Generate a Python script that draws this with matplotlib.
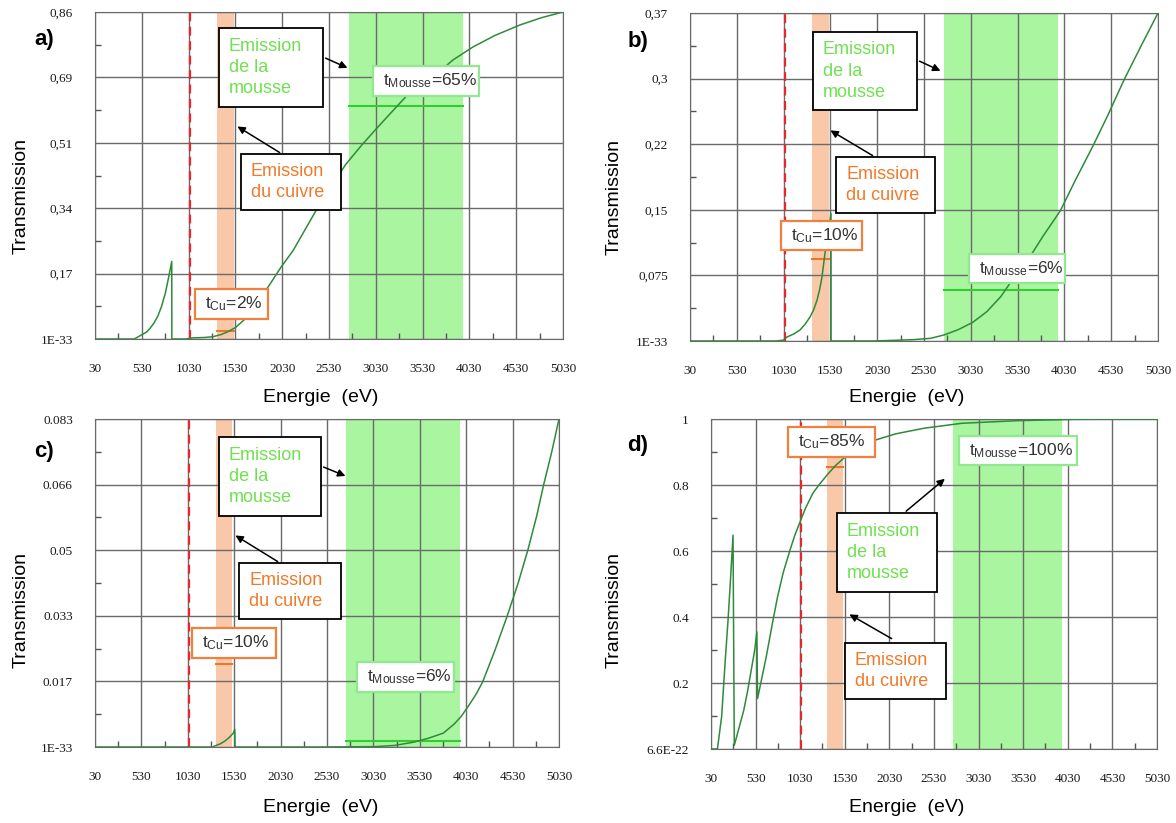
import numpy as np
import matplotlib
matplotlib.use("Agg")
import matplotlib.pyplot as plt
from matplotlib.patches import Rectangle, FancyArrowPatch

plt.rcParams['font.family'] = ['Liberation Sans', 'DejaVu Sans']

# transmission curves (energy in eV)
energy_a = [30, 450, 528, 580, 621, 660, 701, 740, 782, 815, 850, 851, 1000, 1077, 1200, 1291,
            1380, 1440, 1530, 1626, 1720, 1820, 1920, 2020, 2145, 2280, 2401, 2550, 2711, 2880,
            3032, 3200, 3354, 3500, 3635, 3756, 3855, 4068, 4300, 4571, 4800, 5030]
trans_a = [0, 0, 0.011, 0.018, 0.029, 0.042, 0.06, 0.085, 0.121, 0.16, 0.204, 0, 0, 0.003, 0.004, 0.006,
           0.012, 0.018, 0.030, 0.051, 0.08, 0.115, 0.152, 0.19, 0.232, 0.29, 0.342, 0.40, 0.46, 0.51,
           0.552, 0.597, 0.638, 0.668, 0.69, 0.713, 0.734, 0.768, 0.798, 0.826, 0.845, 0.86]

energy_b = [30, 950, 1030, 1066, 1140, 1205, 1260, 1312, 1350, 1387, 1415, 1440, 1472, 1494, 1515,
            1536, 1537, 2000, 2414, 2600, 2750, 2900, 3050, 3200, 3350, 3500, 3650, 3800, 3987,
            4150, 4340, 4500, 4669, 4850, 5030]
trans_b = [0, 0, 0.001, 0.0045, 0.008, 0.0124, 0.019, 0.027, 0.035, 0.046, 0.058, 0.072, 0.099, 0.114, 0.128,
           0.144, 0, 0, 0.0015, 0.003, 0.007, 0.013, 0.021, 0.033, 0.05, 0.073, 0.093, 0.118, 0.147,
           0.182, 0.221, 0.256, 0.295, 0.333, 0.37]

energy_c = [30, 1300, 1313, 1380, 1430, 1480, 1520, 1536, 1540, 2500, 3054, 3257, 3460, 3620, 3783,
            3900, 3978, 4066, 4140, 4208, 4340, 4471, 4590, 4694, 4790, 4868, 4950, 5030]
trans_c = [0, 0, 0.0002, 0.0008, 0.0015, 0.0025, 0.0035, 0.0045, 0, 0, 0.0001, 0.0004, 0.0012, 0.0022, 0.0035,
           0.0058, 0.0078, 0.0108, 0.0135, 0.0165, 0.0245, 0.0331, 0.0415, 0.0498, 0.0585, 0.0667, 0.0745, 0.083]

energy_d = [30, 102, 150, 190, 221, 250, 277, 291, 340, 397, 440, 481, 520, 544, 552, 600, 649, 725,
            776, 840, 916, 970, 1050, 1090, 1174, 1240, 1330, 1430, 1534, 1700, 1871, 2100, 2418,
            2840, 3472, 4104, 5030]
trans_d = [0, 0, 0.1, 0.27, 0.39, 0.52, 0.648, 0.011, 0.06, 0.117, 0.175, 0.239, 0.3, 0.355, 0.153, 0.215, 0.279, 0.39,
           0.461, 0.535, 0.603, 0.648, 0.703, 0.73, 0.776, 0.80, 0.83, 0.86, 0.885, 0.915, 0.936, 0.955, 0.972,
           0.987, 0.995, 0.999, 1.0]

energies = [energy_a, energy_b, energy_c, energy_d]
transmissions = [trans_a, trans_b, trans_c, trans_d]

panel_names = ['a)', 'b)', 'c)', 'd)']
y_max = [0.86, 0.37, 0.083, 1.0]
ytick_labels = [['1E-33', '0,17', '0,34', '0,51', '0,69', '0,86'],
                ['1E-33', '0,075', '0,15', '0,22', '0,3', '0,37'],
                ['1E-33', '0.017', '0.033', '0.05', '0.066', '0.083'],
                ['6.6E-22', '0.2', '0.4', '0.6', '0.8', '1']]
xtick_values = [30, 530, 1030, 1530, 2030, 2530, 3030, 3530, 4030, 4530, 5030]

red_line_e = 1040
cu_band = (1330, 1510)
foam_band = (2740, 3960)
t_cu_level = [0.02, 0.093, 0.0211, 0.855]
t_foam_level = [0.612, 0.057, 0.0014, None]
t_cu_text = ['2%', '10%', '10%', '85%']
t_foam_text = ['65%', '6%', '6%', '100%']

# ---- layout, in pixels of the 1176x823 picture ----
W, H = 1176, 823
axes_px = [(95, 12, 563, 339), (690, 13, 1158, 341), (95, 419, 559, 747), (711, 419, 1157, 749)]
letter_px = [(44, 40), (638, 41), (44, 451), (638, 445)]
ylabel_px = [(21, 196), (614, 197), (21, 610), (614, 610)]
xlabel_px = [(321, 397), (907, 397), (321, 807), (907, 807)]
foam_box_px = [(219, 28, 323, 107), (813, 32, 917, 110), (219, 437, 321, 516), (837, 513, 937, 592)]
cu_box_px = [(241, 154, 341, 210), (836, 157, 935, 213), (239, 563, 341, 619), (845, 643, 946, 699)]
tcu_box_px = [(195, 289, 268, 319), (781, 221, 862, 250), (192, 628, 276, 658), (788, 427, 875, 457)]
tfoam_box_px = [(373, 66, 479, 96), (969, 254, 1065, 283), (357, 662, 454, 692), (959, 436, 1077, 465)]
foam_arrow_px = [((323, 57), (350, 69)), ((917, 60), (943, 72)), ((321, 466), (348, 477)), ((904, 513), (947, 477))]
cu_arrow_px = [((282, 154), (235, 125)), ((875, 157), (828, 129)), ((280, 563), (233, 534)), ((894, 640), (847, 613))]

foam_green = '#6FE050'
cu_orange = '#F07A2A'


def fx(px):
    return px / W


def fy(py):
    return 1 - py / H


fig = plt.figure(figsize=(W / 100, H / 100), dpi=100)


def text_box(box, text, color, edge, size, lw=1.3):
    x0, y0, x1, y1 = box
    fig.add_artist(Rectangle((fx(x0), fy(y1)), (x1 - x0) / W, (y1 - y0) / H,
                             transform=fig.transFigure, fc='white', ec=edge, lw=lw, zorder=5))
    fig.text(fx(x0 + 10), fy((y0 + y1) / 2), text, color=color, fontsize=size,
             ha='left', va='center', linespacing=1.32, zorder=6)


def arrow(p, q):
    fig.add_artist(FancyArrowPatch((fx(p[0]), fy(p[1])), (fx(q[0]), fy(q[1])),
                                   transform=fig.transFigure, arrowstyle='-|>',
                                   mutation_scale=11, lw=1.1, color='black', zorder=7))


for i in range(4):
    l, t, r, b = axes_px[i]
    ax = fig.add_axes([fx(l), fy(b), (r - l) / W, (b - t) / H])
    top = y_max[i]

    ax.axvspan(cu_band[0], cu_band[1], color='#F8C8A8', lw=0, zorder=0.5)
    ax.axvspan(foam_band[0], foam_band[1], color='#A9F5A0', lw=0, zorder=0.5)
    ax.axvline(red_line_e, color='#E8262B', lw=1.6, ls=(0, (4, 2.5)), zorder=3)
    ax.plot(energies[i], transmissions[i], color='#2E8B3A', lw=1.1, zorder=4)
    ax.plot(cu_band, [t_cu_level[i]] * 2, color='#E87830', lw=1.5, zorder=3)
    if t_foam_level[i] is not None:
        ax.plot(foam_band, [t_foam_level[i]] * 2, color='#33CC33', lw=1.5, zorder=3)

    ax.set_xlim(30, 5030)
    ax.set_ylim(0, top)
    ax.set_xticks(xtick_values)
    ax.set_xticklabels([str(v) for v in xtick_values])
    ax.set_xticks(np.arange(280, 5030, 500), minor=True)
    ax.set_yticks(np.linspace(0, top, 6))
    ax.set_yticklabels(ytick_labels[i])
    ax.set_yticks(np.linspace(0, top, 11)[1::2], minor=True)
    ax.grid(True, which='major', color='#6a6a6a', lw=1)
    for s in ax.spines.values():
        s.set_color('#6a6a6a')
    ax.tick_params(which='major', length=0)
    ax.tick_params(axis='x', which='major', pad=17)
    ax.tick_params(axis='y', which='major', pad=16)
    ax.tick_params(which='minor', direction='in', length=4, color='#555555', width=1)
    for lab in ax.get_xticklabels() + ax.get_yticklabels():
        lab.set_fontfamily('Liberation Serif')
        lab.set_fontsize(9.5)
        lab.set_color('#1a1a1a')

    ax.set_ylabel('Transmission', fontsize=14, va='center')
    ax.yaxis.set_label_coords((ylabel_px[i][0] - l) / (r - l), (b - ylabel_px[i][1]) / (b - t))
    ax.set_xlabel('Energie  (eV)', fontsize=14, va='center')
    ax.xaxis.set_label_coords((xlabel_px[i][0] - l) / (r - l), (b - xlabel_px[i][1]) / (b - t))

    fig.text(fx(letter_px[i][0]), fy(letter_px[i][1]), panel_names[i], fontsize=16,
             fontweight='bold', ha='center', va='center')

    text_box(foam_box_px[i], 'Emission\nde la\nmousse', foam_green, 'black', 13)
    text_box(cu_box_px[i], 'Emission\ndu cuivre', cu_orange, 'black', 13)
    text_box(tcu_box_px[i], r'$\mathregular{t_{Cu}}$=' + t_cu_text[i], '#333333', '#F08040', 12.5, lw=1.6)
    text_box(tfoam_box_px[i], r'$\mathregular{t_{Mousse}}$=' + t_foam_text[i], '#333333', '#90E890', 12.5, lw=1.6)
    arrow(*foam_arrow_px[i])
    arrow(*cu_arrow_px[i])

fig.savefig('out.png', dpi=100)
